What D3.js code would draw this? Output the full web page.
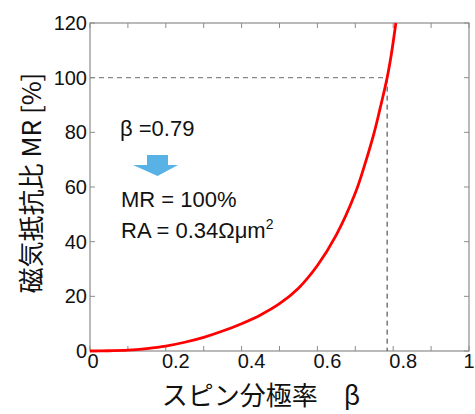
<!DOCTYPE html>
<html><head><meta charset="utf-8">
<script src="https://cdn.jsdelivr.net/npm/d3@7"></script>
<style>body{margin:0;background:#fff}svg{display:block}</style>
</head><body>
<svg id="c" width="475" height="414"></svg>
<script>
const betaValues = [0, 0.05, 0.1, 0.15, 0.2, 0.25, 0.3, 0.35, 0.4, 0.45, 0.5, 0.55, 0.6, 0.65, 0.7, 0.725, 0.75, 0.765, 0.784, 0.795, 0.807];
const mrValues   = [0, 0.1, 0.3, 0.9, 1.8, 3.2, 5.0, 7.3, 10.0, 13.2, 17.3, 23.0, 31.3, 42.5, 57.8, 68.2, 80.0, 88.5, 100, 108.5, 120];
const xTickLabels = [0, 0.2, 0.4, 0.6, 0.8, 1];
const yTickLabels = [0, 20, 40, 60, 80, 100, 120];
const markerBeta = 0.784, markerMR = 100;
const annotations = ["β =0.79", "MR = 100%", "RA = 0.34Ωμm"];

const svg = d3.select("#c");
const x = d3.scaleLinear().domain([0, 1]).range([90, 469]);
const y = d3.scaleLinear().domain([0, 120]).range([351, 23]);
const font = "'Liberation Sans', Arial, sans-serif";
const cjk = "'Noto Sans CJK JP', 'Liberation Sans', sans-serif";
const frame = "#8c8c8c";

// frame
svg.append("rect").attr("x", x(0)).attr("y", y(120)).attr("width", x(1)-x(0)).attr("height", y(0)-y(120))
  .attr("fill", "none").attr("stroke", frame).attr("stroke-width", 1.2);

// ticks
const xt = d3.range(0, 1.0001, 0.1);
const g = svg.append("g").attr("stroke", frame).attr("stroke-width", 1);
xt.forEach(v => {
  g.append("line").attr("x1", x(v)).attr("x2", x(v)).attr("y1", y(0)).attr("y2", y(0)-5);
  g.append("line").attr("x1", x(v)).attr("x2", x(v)).attr("y1", y(120)).attr("y2", y(120)+5);
});
yTickLabels.forEach(v => {
  g.append("line").attr("x1", x(0)).attr("x2", x(0)+5).attr("y1", y(v)).attr("y2", y(v));
  g.append("line").attr("x1", x(1)).attr("x2", x(1)-5).attr("y1", y(v)).attr("y2", y(v));
});

// tick labels
svg.append("g").selectAll("text").data(xTickLabels).join("text")
  .attr("x", d => x(d) + (d === 0 ? 3 : d === 1 ? 0 : 10)).attr("y", 368)
  .attr("text-anchor", "middle").attr("font-family", font).attr("font-size", 20).attr("fill", "#111")
  .text(d => d);
svg.append("g").selectAll("text").data(yTickLabels).join("text")
  .attr("x", 87).attr("y", d => y(d) + 7)
  .attr("text-anchor", "end").attr("font-family", font).attr("font-size", 20).attr("fill", "#111")
  .text(d => d);

// dashed reference lines
svg.append("line").attr("x1", x(0)).attr("x2", x(markerBeta)).attr("y1", y(markerMR)).attr("y2", y(markerMR))
  .attr("stroke", "#888").attr("stroke-width", 1.2).attr("stroke-dasharray", "5,4");
svg.append("line").attr("x1", x(markerBeta)).attr("x2", x(markerBeta)).attr("y1", y(markerMR)).attr("y2", y(0))
  .attr("stroke", "#333").attr("stroke-width", 1).attr("stroke-dasharray", "5,4");

// curve
const pts = betaValues.map((b, i) => [b, mrValues[i]]);
svg.append("path").datum(pts)
  .attr("d", d3.line().x(d => x(d[0])).y(d => y(d[1])).curve(d3.curveCatmullRom.alpha(0.5)))
  .attr("fill", "none").attr("stroke", "#ff0000").attr("stroke-width", 2.8);

// annotations
svg.append("text").attr("x", 120).attr("y", 136).attr("font-family", font).attr("font-size", 22).attr("fill", "#111").text(annotations[0]);
svg.append("path")
  .attr("d", "M147,155 L168,155 L168,165 L178,165 L157.5,176 L133,165 L147,165 Z")
  .attr("fill", "#58b2e6");
svg.append("text").attr("x", 121).attr("y", 207).attr("font-family", font).attr("font-size", 22).attr("fill", "#111").text(annotations[1]);
const ra = svg.append("text").attr("x", 121).attr("y", 238).attr("font-family", font).attr("font-size", 22).attr("fill", "#111").text(annotations[2]);
ra.append("tspan").attr("dy", -9).attr("font-size", 14).text("2");

// axis titles
svg.append("text").attr("x", 261).attr("y", 405).attr("text-anchor", "middle")
  .attr("font-family", cjk).attr("font-size", 26).attr("fill", "#111").text("スピン分極率\u3000β");
svg.append("text").attr("transform", "translate(41,183) rotate(-90)").attr("text-anchor", "middle")
  .attr("font-family", cjk).attr("font-size", 26).attr("fill", "#111").text("磁気抵抗比 MR [%]");
</script>
</body></html>
